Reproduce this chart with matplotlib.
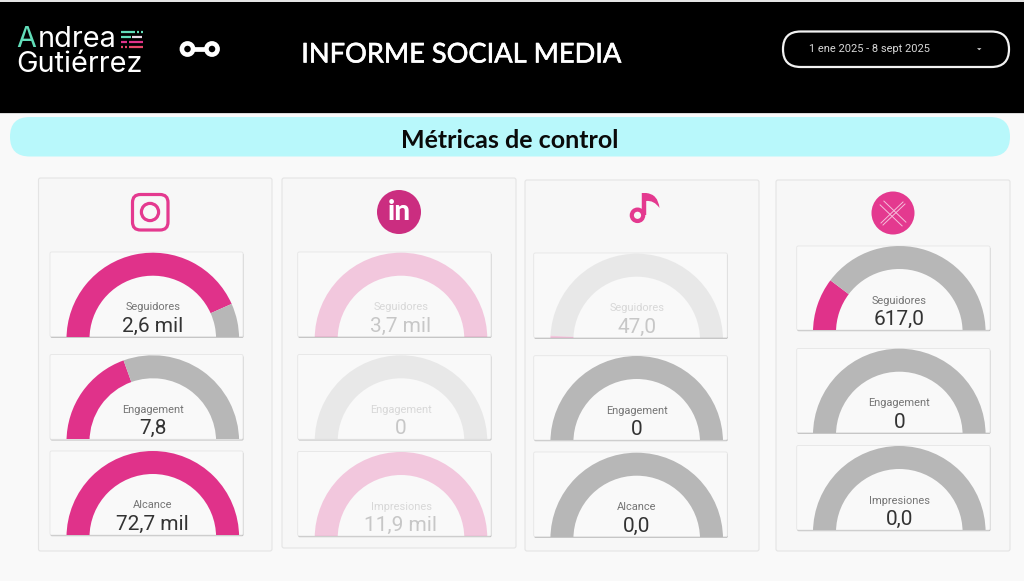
import matplotlib
matplotlib.use("Agg")
import matplotlib.pyplot as plt
import matplotlib.patheffects as pe
from matplotlib.patches import Wedge, FancyBboxPatch, Rectangle, Circle, PathPatch, Polygon
from matplotlib.path import Path

W, H = 1024, 581

# Report data
report_title = "INFORME SOCIAL MEDIA"
section_title = "Métricas de control"
date_range = "1 ene 2025 - 8 sept 2025"

metric_max = {"Seguidores": 3000, "Engagement": 20, "Alcance": 50000, "Impresiones": 10000}

instagram_labels = ["Seguidores", "Engagement", "Alcance"]
instagram_values = [2600, 7.8, 72700]
instagram_texts = ["2,6 mil", "7,8", "72,7 mil"]

linkedin_labels = ["Seguidores", "Engagement", "Impresiones"]
linkedin_values = [3700, 0, 11900]
linkedin_texts = ["3,7 mil", "0", "11,9 mil"]

tiktok_labels = ["Seguidores", "Engagement", "Alcance"]
tiktok_values = [47, 0, 0]
tiktok_texts = ["47,0", "0", "0,0"]

x_labels = ["Seguidores", "Engagement", "Impresiones"]
x_values = [617, 0, 0]
x_texts = ["617,0", "0", "0,0"]

# Layout in pixels
PINK = "#E0328A"
GREY = "#B7B7B7"
BG = "#F9F9F9"
FADED = 0.25
OUTER_R, INNER_R = 86.3, 63.3
CENTER_DROP = 2.3
panels = [(38.5, 178, 272, 551), (282, 178, 516, 548), (525, 180, 759, 551), (776, 180, 1010, 551)]
card_x = [(50, 243), (297.7, 491), (533.7, 727.3), (796.7, 990)]
gauge_cx = [152.8, 401, 636.7, 899.3]
card_y = [
    [(252, 336.7), (354.5, 439.3), (451, 535)],
    [(252, 336.7), (354.5, 439.3), (451.5, 536)],
    [(253, 337.7), (355.7, 440), (452, 536.7)],
    [(246, 330), (348.5, 432.7), (445.5, 530)],
]
columns = [
    (instagram_labels, instagram_values, instagram_texts, [1, 1, 1]),
    (linkedin_labels, linkedin_values, linkedin_texts, [FADED, FADED, FADED]),
    (tiktok_labels, tiktok_values, tiktok_texts, [FADED, 1, 1]),
    (x_labels, x_values, x_texts, [1, 1, 1]),
]

fig = plt.figure(figsize=(W / 100, H / 100), dpi=100, facecolor=BG)


def pixel_axes(z):
    ax = fig.add_axes([0, 0, 1, 1], zorder=z)
    ax.set_xlim(0, W)
    ax.set_ylim(H, 0)
    ax.axis("off")
    return ax


back = pixel_axes(0)
top = pixel_axes(5)


def rounded(ax, x0, y0, x1, y1, r, **kw):
    patch = FancyBboxPatch((x0 + r, y0 + r), x1 - x0 - 2 * r, y1 - y0 - 2 * r,
                           boxstyle=f"round,pad={r},rounding_size={r}", **kw)
    ax.add_patch(patch)
    return patch


# Header band, banner and panels
back.add_patch(Rectangle((0, 0), W, 2.2, fc="#E4E4E4", ec="none"))
back.add_patch(Rectangle((0, 2.2), W, 110.3, fc="black", ec="none"))
back.add_patch(Rectangle((0, 112.5), W, 1, fc="#D8D8D8", ec="none"))
rounded(back, 10, 117, 1010, 156.5, 19.7, fc="#B8F8FB", ec="none")
back.text(509.5, 140.3, section_title, family="Lato", weight="bold", fontsize=18, color="#0A0A0A",
          ha="center", va="center")
back.text(461.5, 55, report_title, family="Lato", fontsize=19.6, color="white", ha="center", va="center",
          path_effects=[pe.withStroke(linewidth=0.45, foreground="white")])

for x0, y0, x1, y1 in panels:
    rounded(back, x0, y0, x1, y1, 2, fc="#F7F7F7", ec="#E4E4E4", lw=0.8)

# Date selector
rounded(back, 783, 31.5, 1009, 67, 17.7, fc="black", ec="#F2F2F2", lw=1.6)
back.text(869, 49, date_range, family="Roboto", fontsize=7.9, color="#D8D8D8", ha="center", va="center")
back.add_patch(Polygon([(977, 48.2), (981.5, 48.2), (979.2, 50.2)], fc="#D8D8D8", ec="none"))

# Brand logo
back.text(16.5, 46.7, "A", family="Inter", fontsize=20.8, color="#62DDB9", ha="left", va="baseline")
back.text(38, 46.7, "ndrea", family="Inter", fontsize=20.8, color="white", ha="left", va="baseline")
back.text(16.5, 72.5, "Gutiérrez", family="Inter", fontsize=20.8, color="white", ha="left", va="baseline")
logo_strokes = [
    (121, 135, 32.3, "#62DDB9"), (136.5, 138.5, 32.3, "#62DDB9"), (140.5, 142.5, 32.3, "#62DDB9"),
    (121, 130.5, 37.3, "#62DDB9"), (132, 141.5, 37.3, "#E9D8E6"),
    (121, 126.5, 42.3, "#E0328A"), (128.5, 142.5, 42.3, "#E0328A"),
    (121, 122.5, 47.3, "#E8476B"), (125, 126.5, 47.3, "#E8476B"), (128.5, 142.5, 47.3, "#E8476B"),
]
for xa, xb, yy, col in logo_strokes:
    back.plot([xa, xb], [yy, yy], color=col, lw=1.6, solid_capstyle="butt")

# Link icon
for cx in (187.5, 212):
    back.add_patch(Circle((cx, 49), 5.6, fc="none", ec="white", lw=3.3))
back.plot([193, 207], [49, 49], color="white", lw=3.4, solid_capstyle="butt")

# Instagram icon
rounded(back, 132.5, 194.5, 168, 230, 8, fc="none", ec="#E4398F", lw=2.3)
back.add_patch(Circle((150, 212), 8.6, fc="none", ec="#E4398F", lw=2.3))

# LinkedIn icon
back.add_patch(Circle((399, 212), 22, fc="#CB2D80", ec="none"))
back.text(399, 212, "in", family="Lato", weight="black", fontsize=20, color="white", ha="center", va="center")

# TikTok icon
back.add_patch(Circle((637.5, 215.3), 5.7, fc="none", ec="#E4398F", lw=3))
back.plot([644.2, 644.2], [215, 193], color="#E4398F", lw=3.2, solid_capstyle="butt")
flag = Path([(646, 193), (658, 194), (659.5, 208), (654, 200), (646, 201), (646, 193)],
            [Path.MOVETO, Path.CURVE3, Path.CURVE3, Path.CURVE3, Path.CURVE3, Path.LINETO])
back.add_patch(PathPatch(flag, fc="#E4398F", ec="none"))

# X icon, each stroke drawn as an open outline
back.add_patch(Circle((893, 213), 21.5, fc="#E4398F", ec="none"))
for offset in (-1.9, 1.9):
    back.plot([882 + offset, 904 + offset], [203 - offset, 224 - offset], color="#F5BFDB", lw=0.7)
for offset in (-1.0, 1.0):
    back.plot([904 + offset, 882 + offset], [203 + offset, 224 + offset], color="#F5BFDB", lw=0.7)


def draw_gauge(x0, x1, cx, y0, y1, label, value, text, alpha, z):
    # Card with a soft lower shadow
    rounded(back, x0 + 0.5, y0 + 1.2, x1 + 0.5, y1 + 1.2, 1.5, fc="#BDBDBD", ec="none", zorder=2)
    rounded(back, x0, y0, x1, y1, 1.5, fc=BG, ec="#E6E6E6", lw=0.6, zorder=3)

    # The dial centre sits just under the card edge, so the arc ends are cut off there
    ax = fig.add_axes([x0 / W, 1 - y1 / H, (x1 - x0) / W, (y1 - y0) / H], zorder=z)
    ax.set_xlim(x0, x1)
    ax.set_ylim(CENTER_DROP, CENTER_DROP + y1 - y0)
    ax.patch.set_alpha(0)
    ax.axis("off")
    fraction = min(value / metric_max[label], 1.0)
    split = 180 - 180 * fraction
    width = OUTER_R - INNER_R
    if fraction > 0:
        ax.add_patch(Wedge((cx, 0), OUTER_R, split, 180, width=width, fc=PINK, ec="none", alpha=alpha))
    if fraction < 1:
        ax.add_patch(Wedge((cx, 0), OUTER_R, 0, split, width=width, fc=GREY, ec="none", alpha=alpha))

    top.text(cx, y1 - 29.5, label, family="Roboto", fontsize=7.9, color="#757575", alpha=alpha,
             ha="center", va="center")
    top.text(cx, y1 - 10.6, text, family="Roboto", fontsize=15, color="#333333", alpha=alpha,
             ha="center", va="center")


z = 1
for (labels, values, texts, alphas), (x0, x1), cx, rows in zip(columns, card_x, gauge_cx, card_y):
    for label, value, text, alpha, (y0, y1) in zip(labels, values, texts, alphas, rows):
        draw_gauge(x0, x1, cx, y0, y1, label, value, text, alpha, z)
        z += 0.01

fig.savefig("out.png", dpi=100, facecolor=BG)
